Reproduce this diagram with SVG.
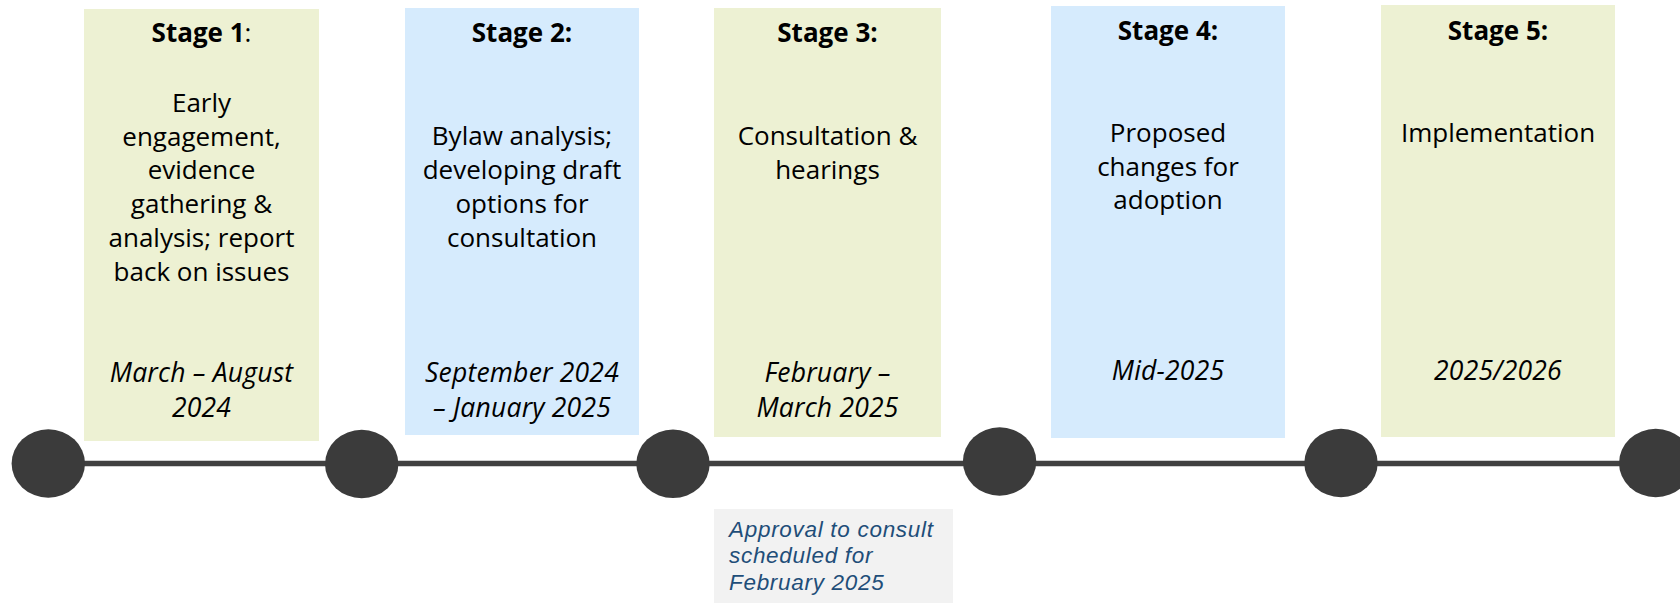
<svg xmlns="http://www.w3.org/2000/svg" width="1680" height="603" viewBox="0 0 1680 603">
<style>
.g{fill:#edf1d3}
.b{fill:#d6ebfd}
.t{font-family:"Open Sans","Liberation Sans",sans-serif;font-size:26px;fill:#000;text-anchor:middle}
.h{font-weight:bold;font-size:26px}
.d{font-style:italic;font-size:26.5px;letter-spacing:0.2px}
.dot{fill:#3b3b3b}
.note{font-family:"Liberation Sans",Arial,sans-serif;font-size:22.5px;letter-spacing:0.7px;font-style:italic;fill:#1f4e79}
</style>
<rect width="1680" height="603" fill="#fff"/>
<g id="connectors">
<line x1="48" y1="463.5" x2="1680" y2="463.5" stroke="#404040" stroke-width="5.5"/>
</g>
<g id="stage1">
<rect class="g" x="84" y="9" width="235" height="432"/>
<text class="t h" x="201.5" y="41.7">Stage 1<tspan font-weight="normal">:</tspan></text>
<text class="t" x="201.5" y="111.7">Early</text>
<text class="t" x="201.5" y="145.7">engagement,</text>
<text class="t" x="201.5" y="179.3">evidence</text>
<text class="t" x="201.5" y="213.3">gathering &amp;</text>
<text class="t" x="201.5" y="246.7">analysis; report</text>
<text class="t" x="201.5" y="280.7">back on issues</text>
<text class="t d" x="201.5" y="382.3">March – August</text>
<text class="t d" x="201.5" y="416.7">2024</text>
</g>
<g id="stage2">
<rect class="b" x="405" y="8" width="234" height="427"/>
<text class="t h" x="522" y="41.7">Stage 2:</text>
<text class="t" x="522" y="145">Bylaw analysis;</text>
<text class="t" x="522" y="179">developing draft</text>
<text class="t" x="522" y="212.7">options for</text>
<text class="t" x="522" y="246.7">consultation</text>
<text class="t d" x="522" y="382.3">September 2024</text>
<text class="t d" x="522" y="416.7">– January 2025</text>
</g>
<g id="stage3">
<rect class="g" x="714" y="8" width="227" height="429"/>
<text class="t h" x="827.5" y="41.7">Stage 3:</text>
<text class="t" x="827.5" y="145">Consultation &amp;</text>
<text class="t" x="827.5" y="179">hearings</text>
<text class="t d" x="827.5" y="382.3">February –</text>
<text class="t d" x="827.5" y="416.7">March 2025</text>
</g>
<g id="stage4">
<rect class="b" x="1051" y="6" width="234" height="432"/>
<text class="t h" x="1168" y="40">Stage 4:</text>
<text class="t" x="1168" y="141.7">Proposed</text>
<text class="t" x="1168" y="175.7">changes for</text>
<text class="t" x="1168" y="209.3">adoption</text>
<text class="t d" x="1168" y="380">Mid-2025</text>
</g>
<g id="stage5">
<rect class="g" x="1381" y="5" width="234" height="432"/>
<text class="t h" x="1498" y="40">Stage 5:</text>
<text class="t" x="1498" y="141.7">Implementation</text>
<text class="t d" x="1498" y="380">2025/2026</text>
</g>
<g id="milestones">
<ellipse class="dot" cx="48.3" cy="463.5" rx="36.7" ry="34.2"/>
<ellipse class="dot" cx="361.7" cy="464" rx="36.7" ry="34.2"/>
<ellipse class="dot" cx="673" cy="463.8" rx="36.7" ry="34.2"/>
<ellipse class="dot" cx="999.6" cy="461.5" rx="36.7" ry="34.2"/>
<ellipse class="dot" cx="1341" cy="463" rx="36.7" ry="34.2"/>
<ellipse class="dot" cx="1655.7" cy="463" rx="36.7" ry="34.2"/>
</g>
<g id="approval-note">
<rect x="714" y="509" width="239" height="94" fill="#f2f2f2"/>
<text class="note" x="729" y="536.7">Approval to consult</text>
<text class="note" x="729" y="563">scheduled for</text>
<text class="note" x="729" y="590">February 2025</text>
</g>
</svg>
